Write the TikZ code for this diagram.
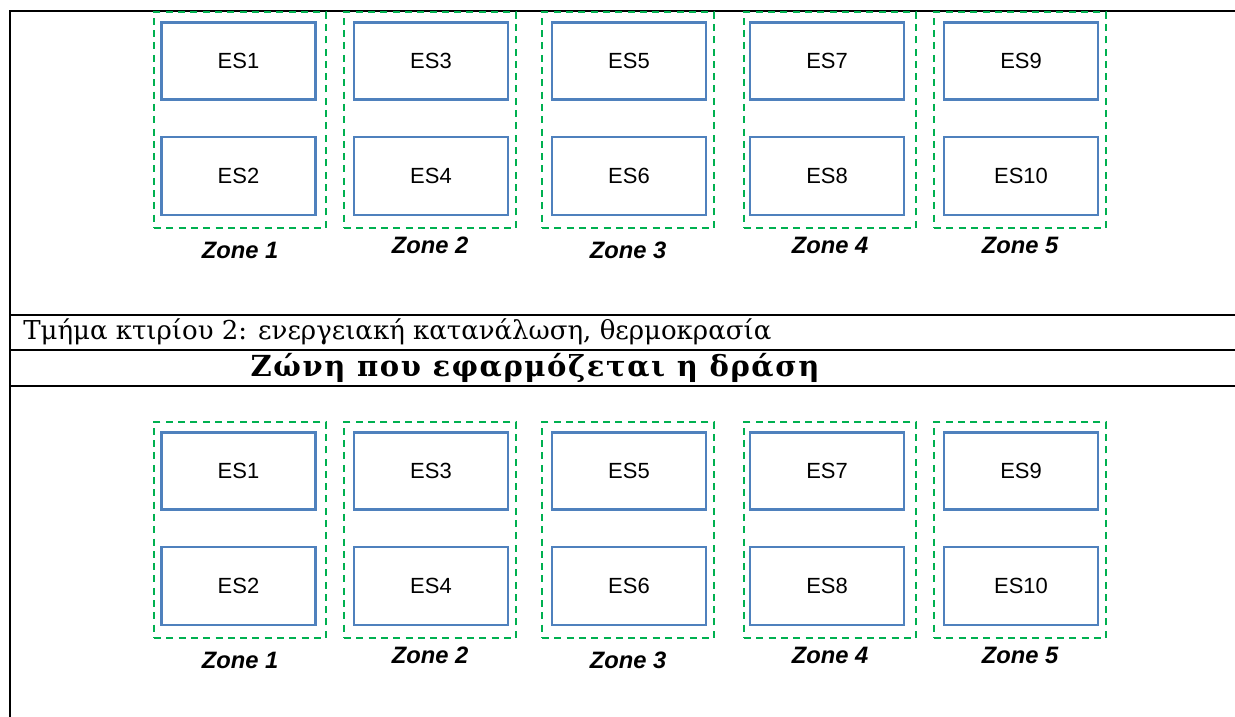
\documentclass[tikz,border=0pt]{standalone}
\usepackage{fontspec}
\setmainfont{DejaVu Serif}
\setsansfont{Liberation Sans}
\newfontfamily\headfont[LetterSpace=5.5]{DejaVu Serif}
\usepackage{tikz}
\definecolor{esblue}{HTML}{4F81BD}
\definecolor{zonegreen}{HTML}{00B050}

\begin{document}
\begin{tikzpicture}[x=0.02cm,y=-0.02cm,
  esbox/.style={draw=esblue,line width=1.4pt,minimum width=3.08cm,minimum height=1.54cm,inner sep=0pt,font=\sffamily\fontsize{12.5}{15}\selectfont},
  zonebox/.style={draw=zonegreen,line width=1.1pt,dash pattern=on 4pt off 3pt,minimum width=3.44cm,minimum height=4.32cm,inner sep=0pt},
  zonelabel/.style={font=\sffamily\bfseries\itshape\fontsize{13.5}{16}\selectfont},
  rule/.style={line width=1.6pt}]
  \useasboundingbox (0,0) rectangle (1235,717);
  % table rules
  \draw[rule] (1235,11) -- (10,11) -- (10,717);
  \draw[rule] (10,315) -- (1235,315);
  \draw[rule] (10,350) -- (1235,350);
  \draw[rule] (10,386) -- (1235,386);
  \node[anchor=base west,inner sep=0pt,font=\fontsize{14.8}{17}\selectfont] (part) at (23,339)
    {Τμήμα κτιρίου 2: ενεργειακή κατανάλωση, θερμοκρασία};
  \node[anchor=base,inner sep=0pt,font=\headfont\bfseries\fontsize{16.5}{19}\selectfont] (head) at (535,376)
    {Ζώνη που εφαρμόζεται η δράση};
  % zones, twice
  \foreach \g/\dy in {top/0,bot/410} {
    \foreach \z/\cx/\ex/\ly in {1/240/238.5/250,2/430/431/245,3/628/629/250,4/830/827/245,5/1020/1021/245} {
      \pgfmathtruncatemacro{\ea}{2*\z-1}
      \pgfmathtruncatemacro{\eb}{2*\z}
      \node[zonebox] (\g-z\z) at (\cx,120+\dy) {};
      \node[esbox] (\g-es\ea) at (\ex,61+\dy) {ES\ea};
      \node[esbox,minimum height=1.56cm] (\g-es\eb) at (\ex,176+\dy) {ES\eb};
      \node[zonelabel] (\g-lab\z) at (\cx,\ly+\dy) {Zone \z};
    }
  }
\end{tikzpicture}
\end{document}
